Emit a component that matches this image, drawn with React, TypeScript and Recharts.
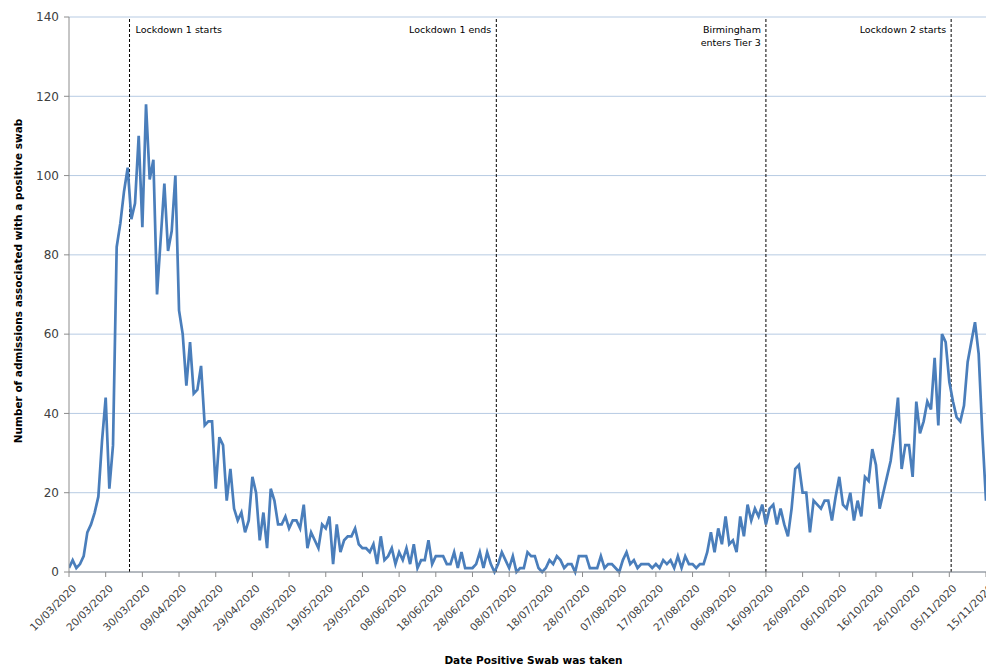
import { LineChart, Line, XAxis, YAxis, CartesianGrid, ReferenceLine } from "recharts";

// daily admissions, one value per day from 10/03/2020 (day 0) to 15/11/2020 (day 250)
const admissions = [
  1, 3, 1, 2, 4, 10, 12, 15, 19, 33,
  44, 21, 32, 82, 88, 96, 102, 89, 93, 110,
  87, 118, 99, 104, 70, 84, 98, 81, 86, 100,
  66, 60, 47, 58, 45, 46, 52, 37, 38, 38,
  21, 34, 32, 18, 26, 16, 13, 15, 10, 13,
  24, 20, 8, 15, 6, 21, 18, 12, 12, 14,
  11, 13, 13, 11, 17, 6, 10, 8, 6, 12,
  11, 14, 2, 12, 5, 8, 9, 9, 11, 7,
  6, 6, 5, 7, 2, 9, 3, 4, 6, 2,
  5, 3, 6, 2, 7, 1, 3, 3, 8, 2,
  4, 4, 4, 2, 2, 5, 1, 5, 1, 1,
  1, 2, 5, 1, 5, 2, 0, 2, 5, 3,
  1, 4, 0, 1, 1, 5, 4, 4, 1, 0,
  1, 3, 2, 4, 3, 1, 2, 2, 0, 4,
  4, 4, 1, 1, 1, 4, 1, 2, 2, 1,
  0, 3, 5, 2, 3, 1, 2, 2, 2, 1,
  2, 1, 3, 2, 3, 1, 4, 1, 4, 2,
  2, 1, 2, 2, 5, 10, 5, 11, 7, 14,
  7, 8, 5, 14, 9, 17, 13, 16, 14, 17,
  12, 16, 17, 12, 16, 12, 9, 16, 26, 27,
  20, 20, 10, 18, 17, 16, 18, 18, 13, 19,
  24, 17, 16, 20, 13, 18, 14, 24, 23, 31,
  27, 16, 20, 24, 28, 35, 44, 26, 32, 32,
  24, 43, 35, 38, 43, 41, 54, 37, 60, 58,
  48, 43, 39, 38, 42, 53, 58, 63, 55, 35,
  18,
];

const tickDays = [0, 10, 20, 30, 40, 50, 60, 70, 80, 90, 100, 110, 120, 130, 140, 150, 160, 170, 180, 190, 200, 210, 220, 230, 240, 250];
const tickLabels = [
  "10/03/2020", "20/03/2020", "30/03/2020", "09/04/2020", "19/04/2020", "29/04/2020",
  "09/05/2020", "19/05/2020", "29/05/2020", "08/06/2020", "18/06/2020", "28/06/2020",
  "08/07/2020", "18/07/2020", "28/07/2020", "07/08/2020", "17/08/2020", "27/08/2020",
  "06/09/2020", "16/09/2020", "26/09/2020", "06/10/2020", "16/10/2020", "26/10/2020",
  "05/11/2020", "15/11/2020",
];
const yTicks = [0, 20, 40, 60, 80, 100, 120, 140];

const eventDays = [16.5, 116.5, 190, 240.5];
const eventLabels = [["Lockdown 1 starts"], ["Lockdown 1 ends"], ["Birmingham", "enters Tier 3"], ["Lockdown 2 starts"]];
const eventSides = ["right", "left", "left", "left"];

const data = admissions.map((v, i) => ({ day: i, value: v }));

const FONT = "'DejaVu Sans', Verdana, sans-serif";

function DateTick({ x, y, payload }: any) {
  const i = tickDays.indexOf(payload.value);
  const ax = x + 8;
  const ay = y + 10;
  return (
    <text
      x={ax}
      y={ay}
      transform={`rotate(-45 ${ax} ${ay})`}
      textAnchor="end"
      fontSize={10.5}
      fontFamily={FONT}
      fill="#404040"
    >
      {tickLabels[i]}
    </text>
  );
}

function EventLabel({ viewBox, lines, side }: any) {
  const x = viewBox.x + (side === "right" ? 6 : -5);
  const y = viewBox.y + 16;
  return (
    <text
      x={x}
      y={y}
      textAnchor={side === "right" ? "start" : "end"}
      fontSize={9.5}
      fontFamily={FONT}
      fill="#000"
    >
      {lines.map((l: string, k: number) => (
        <tspan key={k} x={x} dy={k === 0 ? 0 : 13}>
          {l}
        </tspan>
      ))}
    </text>
  );
}

function YTitle() {
  const cx = 22;
  const cy = 281;
  return (
    <text
      x={cx}
      y={cy}
      transform={`rotate(-90 ${cx} ${cy})`}
      textAnchor="middle"
      fontSize={10.5}
      fontWeight="bold"
      fontFamily={FONT}
      fill="#000"
    >
      Number of admissions associated with a positive swab
    </text>
  );
}

export default function App() {
  return (
    <div style={{ position: "absolute", left: 0, top: 0, background: "#fff" }}>
      <LineChart width={986} height={666} data={data} margin={{ top: 17, right: 0, bottom: 0, left: 9 }}>
        <CartesianGrid vertical={false} stroke="#b7cbe3" strokeWidth={1} />
        <XAxis
          dataKey="day"
          type="number"
          domain={[0, 250]}
          ticks={tickDays}
          interval={0}
          height={94}
          tick={<DateTick />}
          tickSize={5}
          stroke="#8c8c8c"
          allowDataOverflow
          label={{
            value: "Date Positive Swab was taken",
            position: "insideBottom",
            offset: 2,
            fontSize: 10.5,
            fontWeight: "bold",
            fontFamily: FONT,
            fill: "#000",
            dx: 6,
          }}
        />
        <YAxis
          domain={[0, 140]}
          ticks={yTicks}
          width={60}
          tickSize={5}
          tickMargin={5}
          stroke="#8c8c8c"
          tick={{ fontSize: 12, fontFamily: FONT, fill: "#404040" }}
          label={<YTitle />}
        />
        {eventDays.map((d, k) => (
          <ReferenceLine
            key={k}
            x={d}
            stroke="#000"
            strokeWidth={1}
            strokeDasharray="3 2"
            label={<EventLabel lines={eventLabels[k]} side={eventSides[k]} />}
          />
        ))}
        <Line
          type="linear"
          dataKey="value"
          stroke="#4a7ebb"
          strokeWidth={2.7}
          dot={false}
          isAnimationActive={false}
        />
      </LineChart>
    </div>
  );
}
